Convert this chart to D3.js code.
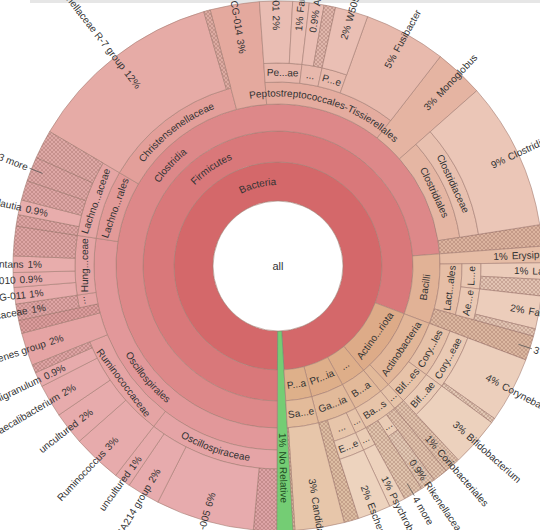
<!DOCTYPE html>
<html>
<head>
<meta charset="utf-8">
<script src="https://cdn.jsdelivr.net/npm/d3@7"></script>
<style>
  html, body { margin: 0; padding: 0; background: #fff; }
  svg { display: block; }
  text { font-family: "Liberation Sans", Arial, sans-serif; fill: #333; }
</style>
</head>
<body>
<svg id="krona" width="540" height="530"></svg>
<script>
// taxonomy rows: [path below the prefix, percent of reads]
// an empty last segment = reads not assigned further (hatched), "+N more" = group of tiny wedges
const clostridiaRows = [
    ['Oscillospirales;Oscillospiraceae;', 1.4],
    ['Oscillospirales;Oscillospiraceae;UCG-005', 6],
    ['Oscillospirales;Oscillospiraceae;NK4A214 group', 2],
    ['Oscillospirales;Oscillospiraceae;uncultured', 1],
    ['Oscillospirales;Ruminococcaceae;Ruminococcus', 3],
    ['Oscillospirales;Ruminococcaceae;uncultured', 2],
    ['Oscillospirales;Ruminococcaceae;Faecalibacterium', 2],
    ['Oscillospirales;Ruminococcaceae;Subdoligranulum', 0.9],
    ['Oscillospirales;Ruminococcaceae;', 0.5],
    ['Oscillospirales;[Eubacterium] coprostanoligenes group', 2],
    ['Oscillospirales;', 0.8],
    ['Oscillospirales;Butyricicoccaceae;', 1],
    ['Oscillospirales;Hungateiclostridiaceae;UCG-011', 1],
    ['Oscillospirales;Hungateiclostridiaceae;UCG-010', 0.9],
    ['Oscillospirales;Hungateiclostridiaceae;Saccharofermentans', 1],
    ['Oscillospirales;Hungateiclostridiaceae;', 1.8],
    ['Lachnospirales;Lachnospiraceae;', 0.7],
    ['Lachnospirales;Lachnospiraceae;Blautia', 0.9],
    ['Lachnospirales;Lachnospiraceae;', 1.2],
    ['Lachnospirales;Lachnospiraceae;+3 more', 1.5],
    ['Lachnospirales;Lachnospiraceae;', 1.75],
    ['Christensenellaceae;Christensenellaceae R-7 group', 12],
    ['Christensenellaceae;', 0.4],
    ['Clostridia UCG-014', 3],
    ['Peptostreptococcales-Tissierellales;Peptostreptococcaceae;Family XIII UCG-001', 2],
    ['Peptostreptococcales-Tissierellales;Peptostreptococcaceae;Family XIII AD3011 group', 1],
    ['Peptostreptococcales-Tissierellales;Anaerovoracaceae;Anaerovorax', 0.9],
    ['Peptostreptococcales-Tissierellales;Anaerovoracaceae;', 0.7],
    ['Peptostreptococcales-Tissierellales;Peptococcaceae;W5053', 2],
    ['Peptostreptococcales-Tissierellales;Fusibacter', 5],
    ['Monoglobus', 3],
    ['Clostridiales;Clostridiaceae;Clostridium sensu stricto 1', 9],
    ['', 1.3]
];

const bacilliRows = [
    ['Erysipelotrichaceae', 1],
    ['Lactobacillales;Lactobacillaceae;Lactobacillus', 1],
    ['Lactobacillales;Lactobacillaceae;', 1],
    ['Lactobacillales;Aerococcaceae;Facklamia', 2],
    ['Lactobacillales;Aerococcaceae;', 0.45],
    ['+3 more', 1.5]
];

const actinoRows = [
    ['Actinobacteria;Corynebacteriales;Corynebacteriaceae;Corynebacterium', 4],
    ['Actinobacteria;Corynebacteriales;Corynebacteriaceae;', 0.3],
    ['Actinobacteria;Bifidobacteriales;Bifidobacteriaceae;Bifidobacterium', 3],
    ['Coriobacteriia;Coriobacteriales;', 1]
];

const bacteroidotaRows = [
    ['Bacteroidia;Bacteroidales;', 0.9],
    ['Bacteroidia;Bacteroidales;Rikenellaceae;', 0.9],
    ['Bacteroidia;Bacteroidales;+4 more', 1.2]
];

const proteoRows = [
    ['Gammaproteobacteria;Pseudomonadales;Moraxellaceae;Psychrobacter', 1],
    ['Gammaproteobacteria;Enterobacterales;Enterobacteriaceae;Escherichia-Shigella', 2],
    ['Gammaproteobacteria;', 0.9]
];

const patesciRows = [
    ['Saccharimonadaceae;Candidatus Saccharimonas', 3],
    ['Saccharimonadaceae;', 0.1]
];

const otherRows = [
    ['No Relative', 1]
];

const groups = [
    [clostridiaRows, 'Bacteria;Firmicutes;Clostridia;'],
    [bacilliRows, 'Bacteria;Firmicutes;Bacilli;'],
    [actinoRows, 'Bacteria;Actinobacteriota;'],
    [bacteroidotaRows, 'Bacteria;Bacteroidota;'],
    [proteoRows, 'Bacteria;Proteobacteria;'],
    [patesciRows, 'Bacteria;Patescibacteria;'],
    [otherRows, '']
];

// layout
const cx = 278, cy = 266;
const ringRadii = [0, 65, 104, 135, 162, 184, 203];
const outerRadius = 265;
const startAngle = 180.3 * Math.PI / 180;
const fontSize = 10;

function buildNodes() {
    const nodes = [{ id: 'all', parentId: null, name: 'all', kind: 'node', value: 0 }];
    const seen = new Set(['all']);
    let hatchCount = 0;

    groups.forEach(([rows, prefix]) => {
        rows.forEach(([path, value]) => {
            const parts = (prefix + path).split(';');
            let parentId = 'all';
            parts.forEach((name, i) => {
                const last = i === parts.length - 1;
                if (last && name === '') {
                    nodes.push({ id: parentId + ';#' + (hatchCount++), parentId, name: '', kind: 'hatch', value });
                    return;
                }
                const id = parentId + ';' + name;
                if (!seen.has(id)) {
                    seen.add(id);
                    const more = name.startsWith('+');
                    nodes.push({
                        id, parentId,
                        name: more ? name.slice(1) : name,
                        kind: more ? 'more' : 'node',
                        value: last ? value : 0
                    });
                }
                parentId = id;
            });
        });
    });
    return nodes;
}

const root = d3.stratify().id(d => d.id).parentId(d => d.parentId)(buildNodes());
root.sum(d => d.value || 0);
d3.partition().size([2 * Math.PI, 1])(root);
const total = root.value;

const inner = d => ringRadii[d.depth];
const outer = d => d.children ? ringRadii[d.depth + 1] : outerRadius;

const hueScale = d3.scaleLinear()
    .domain([0, 100, 170, 230, 270, 300, 360])
    .range([358, 361, 370, 377, 382, 385, 388]);

function nodeColor(d) {
    if (d.data.name === 'No Relative') return '#74cd74';
    const t = (d.x0 + 0.1 * (d.x1 - d.x0)) * 180 / Math.PI;
    const h = hueScale(t);
    const light = [0, 62, 66, 70, 74, 77, 79][d.depth] + Math.max(0, h - 360) * 0.17;
    return d3.hsl(h % 360, 0.56, light / 100).formatHex();
}

const svg = d3.select('#krona');
const defs = svg.append('defs');

const pattern = defs.append('pattern')
    .attr('id', 'hatch')
    .attr('patternUnits', 'userSpaceOnUse')
    .attr('width', 4)
    .attr('height', 4);
pattern.append('path')
    .attr('d', 'M0,0L4,4M4,0L0,4')
    .attr('stroke', 'rgba(120,70,60,0.4)')
    .attr('stroke-width', 0.6);

svg.append('rect')
    .attr('x', 30).attr('y', 0)
    .attr('width', 510).attr('height', 3)
    .attr('fill', '#e6e6e6');

const g = svg.append('g').attr('transform', `translate(${cx},${cy})`);

const arc = d3.arc()
    .startAngle(d => startAngle + d.x0)
    .endAngle(d => startAngle + d.x1)
    .innerRadius(inner)
    .outerRadius(outer);

const wedges = root.descendants().filter(d => d.depth > 0);

g.selectAll('path.wedge')
    .data(wedges)
    .join('path')
    .attr('class', 'wedge')
    .attr('d', arc)
    .attr('fill', d => d.data.kind === 'node' ? nodeColor(d) : d3.color(nodeColor(d)).darker(0.12))
    .attr('stroke', d => d.data.name === 'No Relative' ? '#6f7f6f' : '#a57d74')
    .attr('stroke-width', 0.6);

g.selectAll('path.hatch')
    .data(wedges.filter(d => d.data.kind !== 'node'))
    .join('path')
    .attr('class', 'hatch')
    .attr('d', arc)
    .attr('fill', 'url(#hatch)');

g.append('circle')
    .attr('r', ringRadii[1])
    .attr('fill', '#fff')
    .attr('stroke', '#a57d74')
    .attr('stroke-width', 0.6);

g.append('text')
    .attr('text-anchor', 'middle')
    .attr('dy', '0.35em')
    .style('font-size', '11px')
    .text('all');

// text fitting
const measurer = svg.append('text').attr('visibility', 'hidden').style('font-size', fontSize + 'px');
const textWidth = s => measurer.text(s).node().getComputedTextLength();

function fitLabel(name, avail) {
    if (textWidth(name) <= avail) return name;
    for (let k = Math.floor(name.length / 2) - 1; k >= 1; k--) {
        for (const r of [k, k - 1]) {
            if (r < 1) continue;
            const s = name.slice(0, k) + '...' + name.slice(-r);
            if (textWidth(s) <= avail) return s;
        }
    }
    if (textWidth('...') <= avail) return '...';
    return null;
}

const pctText = v => {
    const p = v / total * 100;
    return p < 1 ? p.toFixed(1) + '%' : Math.round(p) + '%';
};

const toDeg = r => ((r * 180 / Math.PI) % 360 + 360) % 360;

// labels of inner wedges
let pathId = 0;
wedges.filter(d => d.children).forEach(d => {
    const rm = (inner(d) + outer(d)) / 2;
    const span = d.x1 - d.x0;
    const curved = span >= 35 * Math.PI / 180;
    const label = fitLabel(d.data.name, curved ? span * rm + 40 : span * rm - 2);
    if (!label) return;
    let mid = startAngle + (d.x0 + d.x1) / 2;
    if (d.depth === 1 && span > 5) mid -= 0.22;
    const top = Math.cos(mid) >= 0;

    if (curved) {
        const half = Math.min(span / 2 + 0.15, 1.4);
        const a0 = mid - half, a1 = mid + half;
        const r = top ? rm - fontSize * 0.35 : rm + fontSize * 0.35;
        const p0 = [r * Math.sin(a0), -r * Math.cos(a0)];
        const p1 = [r * Math.sin(a1), -r * Math.cos(a1)];
        const id = 'lp' + (pathId++);
        defs.append('path')
            .attr('id', id)
            .attr('d', top ? `M${p0}A${r},${r} 0 0 1 ${p1}` : `M${p1}A${r},${r} 0 0 0 ${p0}`);
        g.append('text')
            .style('font-size', fontSize + 'px')
            .append('textPath')
            .attr('href', '#' + id)
            .attr('startOffset', '50%')
            .attr('text-anchor', 'middle')
            .text(label);
    } else {
        const deg = toDeg(mid);
        g.append('text')
            .attr('transform', `rotate(${deg}) translate(0,${-rm})` + (top ? '' : ' rotate(180)'))
            .attr('text-anchor', 'middle')
            .attr('dy', '0.35em')
            .style('font-size', fontSize + 'px')
            .text(label);
    }
});

// labels of leaf wedges, radial and reaching out of the circle
wedges.filter(d => !d.children).forEach(d => {
    const mid = startAngle + (d.x0 + d.x1) / 2;
    const deg = toDeg(mid);
    const right = deg < 180;
    const kind = d.data.kind;

    if (kind === 'more') {
        const rot = right ? deg - 90 : deg + 90;
        const s = right ? 1 : -1;
        const lg = g.append('g').attr('transform', `rotate(${rot})`);
        lg.append('line')
            .attr('x1', s * (outerRadius - 12)).attr('x2', s * (outerRadius + 2))
            .attr('stroke', '#555').attr('stroke-width', 0.7);
        lg.append('text')
            .attr('x', s * (outerRadius + 4))
            .attr('dy', '0.35em')
            .attr('text-anchor', right ? 'start' : 'end')
            .style('font-size', fontSize + 'px')
            .text(d.data.name);
        return;
    }

    let name = d.data.name;
    if (kind === 'hatch') {
        if (d.parent.children.length !== 1) return;
        name = d.parent.data.name;
    }
    const r0 = (inner(d) + outerRadius) / 2 + 2;
    if ((d.x1 - d.x0) * r0 < 9) return;

    const t = g.append('text')
        .attr('dy', '0.35em')
        .style('font-size', fontSize + 'px')
        .style('fill', d.data.name === 'No Relative' ? '#1f4a1f' : '#333');
    if (right) {
        t.attr('transform', `rotate(${deg - 90}) translate(${r0},0)`).attr('text-anchor', 'start');
        t.append('tspan').text(pctText(d.value));
        t.append('tspan').attr('dx', 4).text(name);
    } else {
        t.attr('transform', `rotate(${deg + 90}) translate(${-r0},0)`).attr('text-anchor', 'end');
        t.append('tspan').text(name);
        t.append('tspan').attr('dx', 4).text(pctText(d.value));
    }
});

measurer.remove();
</script>
</body>
</html>
